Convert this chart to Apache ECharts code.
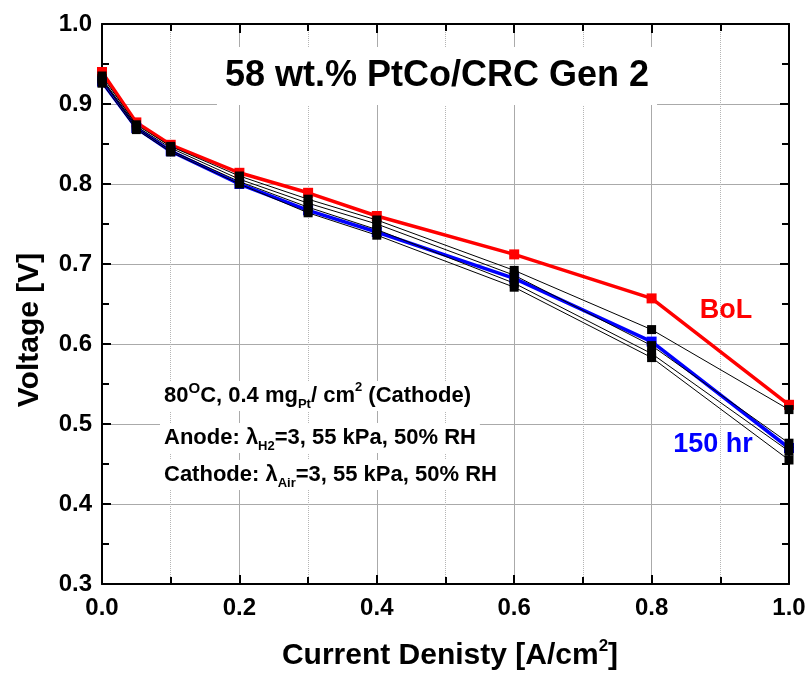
<!DOCTYPE html>
<html><head><meta charset="utf-8">
<script src="https://cdn.jsdelivr.net/npm/echarts@6/dist/echarts.min.js"></script>
<style>html,body{margin:0;padding:0;background:#fff}#c{width:809px;height:678px}</style>
</head><body><div id="c"></div>
<script>
// ---- data ----
const currentDensity = [0, 0.05, 0.1, 0.2, 0.3, 0.4, 0.6, 0.8, 1.0];
const bolVoltage  = [0.940, 0.877, 0.849, 0.814, 0.789, 0.760, 0.712, 0.657, 0.524];
const hr150Voltage = [0.928, 0.870, 0.841, 0.800, 0.767, 0.740, 0.682, 0.603, 0.470];
const midVoltage1 = [0.935, 0.874, 0.847, 0.810, 0.781, 0.755, 0.692, 0.618, 0.518];
const midVoltage2 = [0.932, 0.872, 0.845, 0.806, 0.776, 0.750, 0.686, 0.598, 0.476];
const midVoltage3 = [0.930, 0.870, 0.842, 0.803, 0.771, 0.743, 0.676, 0.588, 0.466];
const midVoltage4 = [0.926, 0.868, 0.840, 0.800, 0.764, 0.736, 0.671, 0.583, 0.455];
const xTicks = [0, 0.2, 0.4, 0.6, 0.8, 1.0];
const yTicks = [0.3, 0.4, 0.5, 0.6, 0.7, 0.8, 0.9, 1.0];

const FONT = '"Liberation Sans", Arial, sans-serif';
const pair = arr => currentDensity.map((x, i) => [x, arr[i]]);

function lineSeries(name, arr, color, width, size, z) {
  return {
    name, type: 'line', data: pair(arr), xAxisIndex: 0, yAxisIndex: 0,
    symbol: 'rect', symbolSize: size, z,
    lineStyle: { color, width }, itemStyle: { color, borderWidth: 0 },
    emphasis: { disabled: true }
  };
}

const axisCommon = {
  axisLine: { show: true, onZero: false, lineStyle: { color: '#000', width: 2 } },
  axisTick: { show: true, inside: true, length: 9, lineStyle: { color: '#000', width: 2 } },
  minorTick: { show: true, splitNumber: 2, length: 7, lineStyle: { color: '#000', width: 2 } }
};
const labelStyle = { fontSize: 24, fontWeight: 'bold', color: '#000', fontFamily: FONT };

const base = { t: { fontSize: 22, fontWeight: 'bold', fontFamily: FONT, fill: '#000', lineHeight: 30, verticalAlign: 'middle' } };
function rich(extra) { return Object.assign({}, base, extra); }
const supS = { fontSize: 15, fontWeight: 'bold', fontFamily: FONT, fill: '#000', lineHeight: 15, verticalAlign: 'top' };
const sup2 = { fontSize: 13, fontWeight: 'bold', fontFamily: FONT, fill: '#000', lineHeight: 13, verticalAlign: 'top' };
const subS = { fontSize: 13, fontWeight: 'bold', fontFamily: FONT, fill: '#000', lineHeight: 13, verticalAlign: 'bottom' };

function txt(x, y, style, extra) {
  return Object.assign({ type: 'text', x, y, z: 50, silent: true,
    style: Object.assign({ legacy: false }, style) }, extra || {});
}

const chart = echarts.init(document.getElementById('c'), null, { renderer: 'canvas' });
chart.setOption({
  animation: false,
  backgroundColor: '#fff',
  grid: { left: 102, right: 20, top: 24, bottom: 94, containLabel: false },
  xAxis: [
    Object.assign({}, axisCommon, {
      type: 'value', min: xTicks[0], max: xTicks[xTicks.length - 1], interval: 0.2, position: 'bottom',
      splitLine: { show: true, lineStyle: { color: '#aaaaaa', width: 1 } },
      minorSplitLine: { show: true, lineStyle: { color: '#b5b5b5', width: 1, type: 'dotted' } },
      axisLabel: Object.assign({ margin: 12, formatter: v => v.toFixed(1) }, labelStyle)
    }),
    Object.assign({}, axisCommon, {
      type: 'value', min: xTicks[0], max: xTicks[xTicks.length - 1], interval: 0.2, position: 'top',
      splitLine: { show: false }, axisLabel: { show: false }
    })
  ],
  yAxis: [
    Object.assign({}, axisCommon, {
      type: 'value', min: yTicks[0], max: yTicks[yTicks.length - 1], interval: 0.1, position: 'left',
      splitLine: { show: true, lineStyle: { color: '#aaaaaa', width: 1 } },
      axisLabel: Object.assign({ margin: 10, formatter: v => v.toFixed(1) }, labelStyle)
    }),
    Object.assign({}, axisCommon, {
      type: 'value', min: yTicks[0], max: yTicks[yTicks.length - 1], interval: 0.1, position: 'right',
      splitLine: { show: false }, axisLabel: { show: false }
    })
  ],
  series: [
    lineSeries('BoL', bolVoltage, '#ff0000', 3.5, 10, 3),
    lineSeries('150 hr', hr150Voltage, '#0000ff', 3.5, 10, 4),
    lineSeries('run1', midVoltage1, '#000000', 1, 9, 5),
    lineSeries('run2', midVoltage2, '#000000', 1, 9, 5),
    lineSeries('run3', midVoltage3, '#000000', 1, 9, 5),
    lineSeries('run4', midVoltage4, '#000000', 1, 9, 5)
  ],
  graphic: { elements: [
    txt(437, 76, { text: '58 wt.% PtCo/CRC Gen 2', font: 'bold 36px ' + FONT, fill: '#000',
      align: 'center', verticalAlign: 'middle', backgroundColor: '#fff', padding: [12, 8, 10, 8] }),
    txt(160, 396, { text: '{t|80}{sup|O}{t|C, 0.4 mg}{sub|Pt}{t|/ cm}{sup2|2}{t| (Cathode)}',
      rich: rich({ sup: supS, sub: subS, sup2: sup2 }), align: 'left', verticalAlign: 'middle',
      backgroundColor: '#fff', padding: [0, 4, 0, 4] }),
    txt(160, 438, { text: '{t|Anode: λ}{sub|H2}{t|=3, 55 kPa, 50% RH}',
      rich: rich({ sub: subS }), align: 'left', verticalAlign: 'middle',
      backgroundColor: '#fff', padding: [0, 4, 0, 4] }),
    txt(160, 475, { text: '{t|Cathode: λ}{sub|Air}{t|=3, 55 kPa, 50% RH}',
      rich: rich({ sub: subS }), align: 'left', verticalAlign: 'middle',
      backgroundColor: '#fff', padding: [0, 4, 0, 4] }),
    txt(726, 311, { text: 'BoL', font: 'bold 27px ' + FONT, fill: '#ff0000', align: 'center', verticalAlign: 'middle' }),
    txt(713, 445, { text: '150 hr', font: 'bold 27px ' + FONT, fill: '#0000ff', align: 'center', verticalAlign: 'middle' }),
    txt(450, 656, { text: '{a|Current Denisty [A/cm}{s|2}{a|]}',
      rich: { a: { fontSize: 30, fontWeight: 'bold', fontFamily: FONT, fill: '#000', lineHeight: 36, verticalAlign: 'middle' },
              s: { fontSize: 17, fontWeight: 'bold', fontFamily: FONT, fill: '#000', lineHeight: 17, verticalAlign: 'top' } },
      align: 'center', verticalAlign: 'middle' }),
    txt(30, 330, { text: 'Voltage [V]', font: 'bold 30px ' + FONT, fill: '#000', align: 'center', verticalAlign: 'middle' },
      { rotation: Math.PI / 2 })
  ] }
});
</script></body></html>
